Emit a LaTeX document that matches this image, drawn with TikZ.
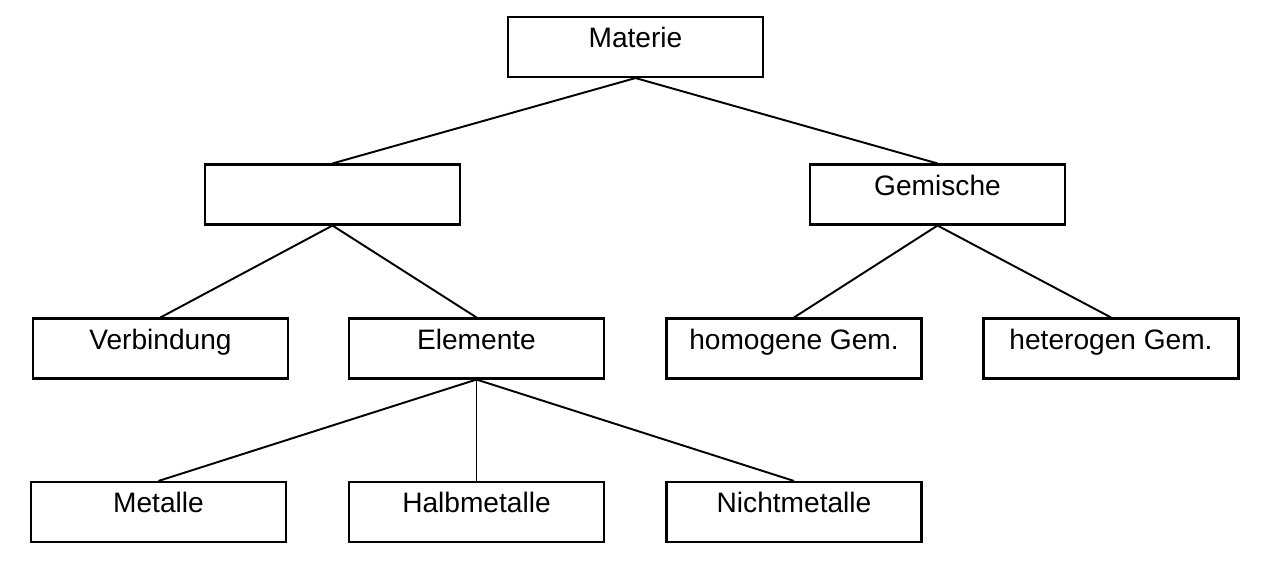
\documentclass[tikz,border=0pt]{standalone}
\usepackage{fontspec}
\setmainfont{Liberation Sans}
\begin{document}
\begin{tikzpicture}[x=0.02cm,y=-0.02cm,
  box/.style={draw,line width=1.2pt,minimum width=5.1cm,minimum height=1.2cm,inner sep=0pt,text height=0.55em,text depth=0.45em,font=\fontsize{16pt}{18pt}\selectfont},
  conn/.style={line width=1.1pt}]
\useasboundingbox (0,0) rectangle (1265,567);
\node[box] (mat) at (635.5,47) {Materie};
\node[box] (rein) at (332.5,194.5) {};
\node[box] (gem) at (937.5,194.5) {Gemische};
\node[box] (ver) at (160.5,348.5) {Verbindung};
\node[box] (ele) at (476.5,348.5) {Elemente};
\node[box] (hom) at (794,348.5) {homogene Gem.};
\node[box] (het) at (1111,348.5) {heterogen Gem.};
\node[box] (met) at (158.5,512) {Metalle};
\node[box] (hal) at (476.5,512) {Halbmetalle};
\node[box] (nic) at (794,512) {Nichtmetalle};
\draw[conn] (mat.south) -- (rein.north);
\draw[conn] (mat.south) -- (gem.north);
\draw[conn] (rein.south) -- (ver.north);
\draw[conn] (rein.south) -- (ele.north);
\draw[conn] (gem.south) -- (hom.north);
\draw[conn] (gem.south) -- (het.north);
\draw[conn] (ele.south) -- (met.north);
\draw[conn] (ele.south) -- (hal.north);
\draw[conn] (ele.south) -- (nic.north);
\end{tikzpicture}
\end{document}
